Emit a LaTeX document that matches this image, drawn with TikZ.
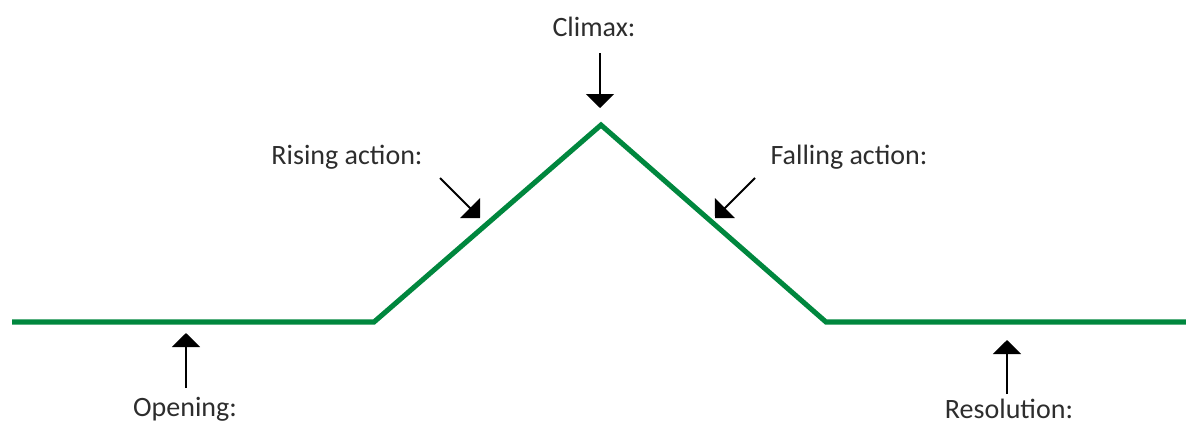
\documentclass[tikz,border=0pt]{standalone}
\usepackage{fontspec}
\setmainfont{Carlito}
\usetikzlibrary{arrows.meta,positioning,calc}
\definecolor{plotgreen}{RGB}{0,135,62}
\definecolor{labelgray}{RGB}{45,45,45}
\tikzset{
	x=0.75pt, y=-0.75pt,
	plotline/.style={
		line width=3.8pt, draw=plotgreen, line join=miter
	},
	%
	pointer/.style={
		line width=1.4pt, draw=black,
		-{Triangle[width=21pt,length=10.5pt]}
	},
	%
	stagelabel/.style={
		text=labelgray, inner sep=0pt,
		font=\fontsize{21}{25}\selectfont
	}
}
\begin{document}
\begin{tikzpicture}
    \useasboundingbox (0,0) rectangle (1186,426);
    % the plot line
    \coordinate(Start) at (12,322);
    \coordinate(RiseStart) at (374,322);
    \coordinate(Peak) at (601,125);
    \coordinate(FallEnd) at (826,322);
    \coordinate(End) at (1186,322);
    \draw[plotline] (Start) -- (RiseStart) -- (Peak) -- (FallEnd) -- (End);
    % labels
    \node(Climax)[stagelabel] at (594,27){Climax:};
    \node(Rising)[stagelabel] at (347,157){Rising action:};
    \node(Falling)[stagelabel] at (849,157){Falling action:};
    \node(Opening)[stagelabel] at (185,409){Opening:};
    \node(Resolution)[stagelabel] at (1009,409){Resolution:};
    % arrows
    \coordinate(ClimaxTail) at (600,53);
    \coordinate(ClimaxTip) at (600,108);
    \draw[pointer] (ClimaxTail) -- (ClimaxTip);
    \coordinate(RisingTail) at (440,178);
    \coordinate(RisingTip) at (480,218);
    \draw[pointer] (RisingTail) -- (RisingTip);
    \coordinate(FallingTail) at (755,178);
    \coordinate(FallingTip) at (715,218);
    \draw[pointer] (FallingTail) -- (FallingTip);
    \coordinate(OpeningTail) at (186,388);
    \coordinate(OpeningTip) at (186,333);
    \draw[pointer] (OpeningTail) -- (OpeningTip);
    \coordinate(ResolutionTail) at (1007,394);
    \coordinate(ResolutionTip) at (1007,340);
    \draw[pointer] (ResolutionTail) -- (ResolutionTip);
\end{tikzpicture}
\end{document}
